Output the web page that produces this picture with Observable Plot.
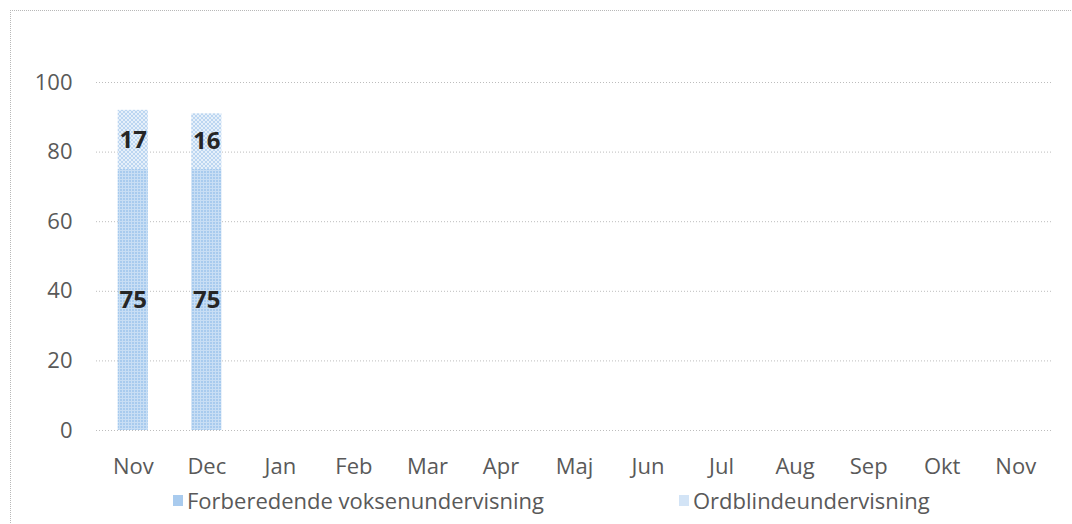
<!DOCTYPE html>
<html>
<head>
<meta charset="utf-8">
<script src="https://cdn.jsdelivr.net/npm/d3@7"></script>
<script src="https://cdn.jsdelivr.net/npm/@observablehq/plot@0.6"></script>
<style>
  html, body { margin: 0; padding: 0; background: #fff; }
  #wrap { position: relative; width: 1072px; height: 524px; overflow: hidden; font-family: "Open Sans", sans-serif; }
  #frame { position: absolute; left: 10px; top: 10px; width: 1070px; height: 520px; border-top: 1px dotted #b8b8b8; border-left: 1px dotted #b8b8b8; }
  #chart { position: absolute; left: 0; top: 0; }
  #legend { position: absolute; left: 0; top: 483px; width: 1072px; height: 34px; font-size: 22px; color: #595959; }
  .item { position: absolute; top: 0; display: flex; align-items: center; height: 34px; }
  .sw { width: 10px; height: 11px; margin-right: 4px; }
</style>
</head>
<body>
<div id="wrap">
  <div id="frame"></div>
  <div id="chart"></div>
  <div id="legend"></div>
</div>
<script>
const months = ["Nov","Dec","Jan","Feb","Mar","Apr","Maj","Jun","Jul","Aug","Sep","Okt","Nov"];
const seriesNames = ["Forberedende voksenundervisning", "Ordblindeundervisning"];
const forberedende = [75, 75, null, null, null, null, null, null, null, null, null, null, null];
const ordblinde = [17, 16, null, null, null, null, null, null, null, null, null, null, null];
const yTicks = [0, 20, 40, 60, 80, 100];

const rows = [];
months.forEach((m, i) => {
  if (forberedende[i] != null) rows.push({i, series: seriesNames[0], value: forberedende[i]});
  if (ordblinde[i] != null) rows.push({i, series: seriesNames[1], value: ordblinde[i]});
});

const chart = Plot.plot({
  width: 1072,
  height: 480,
  marginTop: 82,
  marginBottom: 50,
  marginLeft: 96,
  marginRight: 20,
  style: { fontFamily: "Open Sans, sans-serif", background: "transparent" },
  x: { domain: d3.range(months.length), paddingInner: 0.59, paddingOuter: 0.295, round: false, label: null },
  y: { domain: [0, 100], ticks: yTicks, label: null },
  color: { domain: seriesNames, range: ["url(#pA)", "url(#pB)"] },
  marks: [
    Plot.ruleY(yTicks, { stroke: "#bdbdbd", strokeDasharray: "1,2", strokeWidth: 1 }),
    Plot.barY(rows, Plot.stackY({ x: "i", y: "value", fill: "series", order: seriesNames })),
    Plot.text(rows, Plot.stackY({ x: "i", y: "value", z: "series", order: seriesNames, text: "value",
      fill: "#262626", fontWeight: "bold", fontSize: 24 })),
    Plot.axisX({ tickSize: 0, tickPadding: 28, fontSize: 22, color: "#595959", label: null, tickFormat: i => months[i] }),
    Plot.axisY({ ticks: yTicks, tickSize: 0, tickPadding: 24, fontSize: 22, color: "#595959", label: null })
  ]
});

// pattern fills
const defs = d3.select(chart).insert("defs", ":first-child");
const pA = defs.append("pattern").attr("id", "pA").attr("patternUnits", "userSpaceOnUse").attr("width", 3).attr("height", 3);
pA.append("rect").attr("width", 3).attr("height", 3).attr("fill", "#c8def4");
pA.append("rect").attr("width", 2).attr("height", 2).attr("fill", "#a8cbee");
const pB = defs.append("pattern").attr("id", "pB").attr("patternUnits", "userSpaceOnUse").attr("width", 4).attr("height", 4);
pB.append("rect").attr("width", 4).attr("height", 4).attr("fill", "#e6f0fa");
pB.append("path").attr("d", "M0,0L4,4M4,0L0,4").attr("stroke", "#bcd6f1").attr("stroke-width", 1);

document.getElementById("chart").appendChild(chart);

const legend = document.getElementById("legend");
const lefts = [173, 679];
const fills = ["#a9cbee", "#d3e4f6"];
seriesNames.forEach((s, k) => {
  const it = document.createElement("div");
  it.className = "item";
  it.style.left = lefts[k] + "px";
  const sw = document.createElement("div");
  sw.className = "sw";
  sw.style.background = fills[k];
  const t = document.createElement("span");
  t.textContent = s;
  it.appendChild(sw); it.appendChild(t);
  legend.appendChild(it);
});
</script>
</body>
</html>
